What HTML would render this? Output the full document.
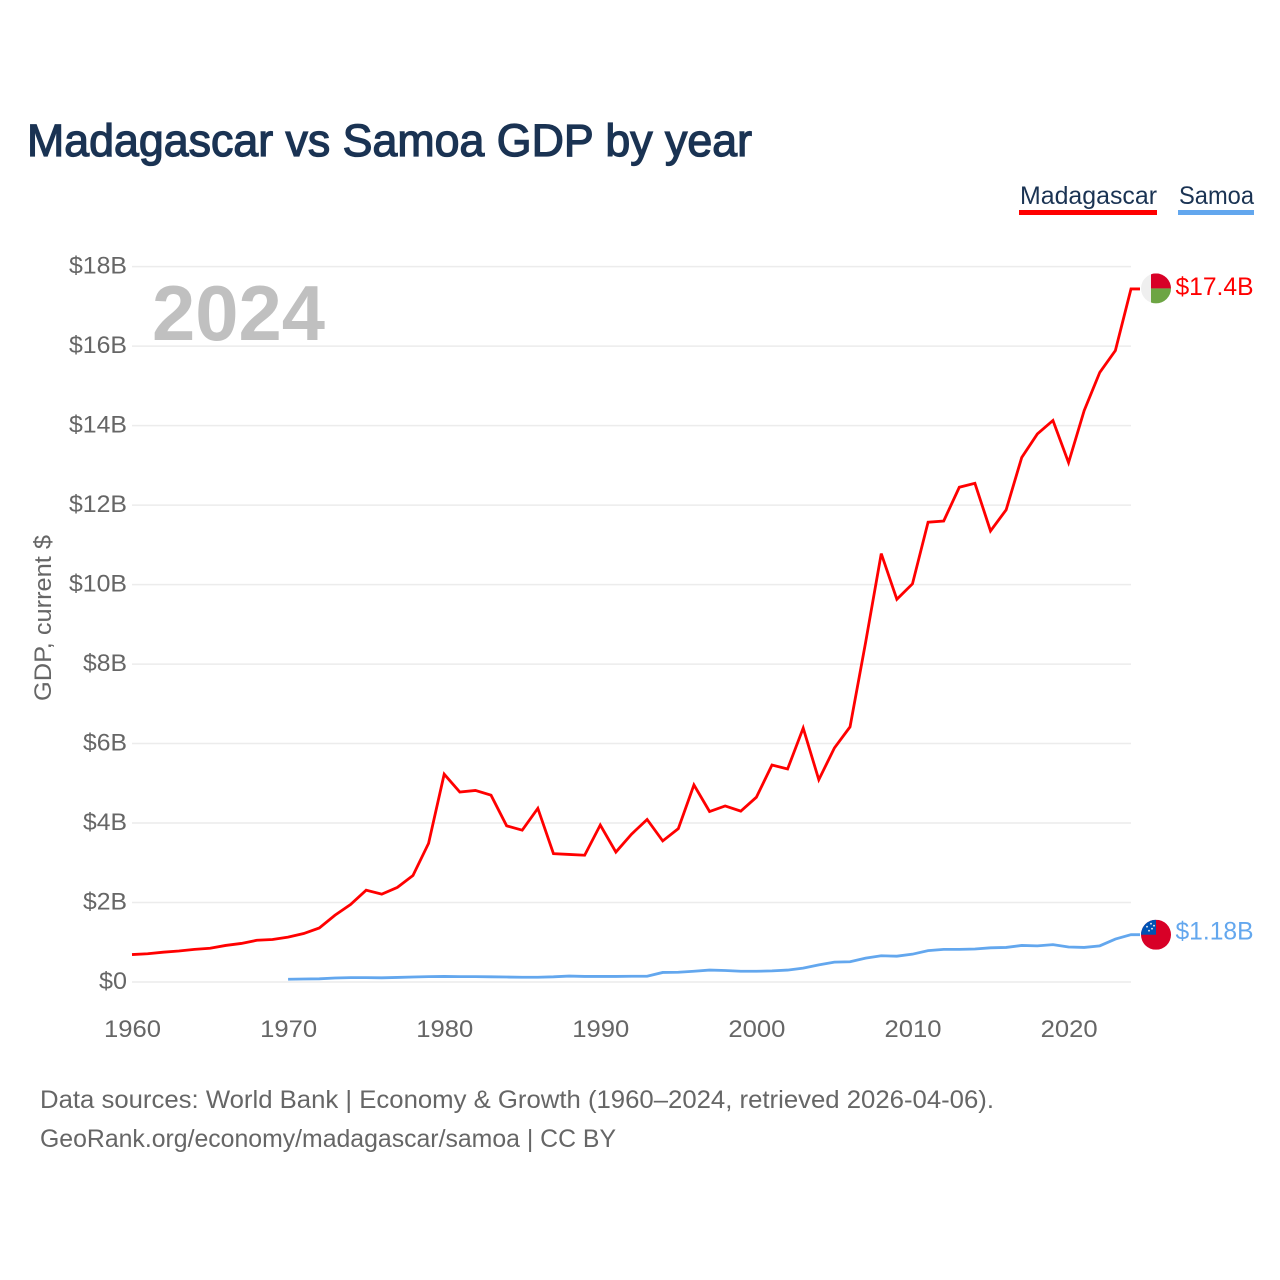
<!DOCTYPE html>
<html lang="en">
<head>
<meta charset="utf-8">
<title>Madagascar vs Samoa GDP by year</title>
<style>
html,body{margin:0;padding:0;background:#fff;}
body{width:1280px;height:1280px;overflow:hidden;}
svg{display:block;font-family:"Liberation Sans",sans-serif;}
</style>
</head>
<body>
<svg id="chart" xmlns="http://www.w3.org/2000/svg" width="1280" height="1280" viewBox="0 0 1280 1280">
  <defs>
    <clipPath id="flag-clip"><circle cx="0" cy="0" r="15"></circle></clipPath>
  </defs>
  <rect x="0" y="0" width="1280" height="1280" fill="#ffffff"></rect>
  <text x="27" y="156" font-size="45" fill="#1a3353" stroke="#1a3353" stroke-width="1.3" textLength="725" lengthAdjust="spacingAndGlyphs">Madagascar vs Samoa GDP by year</text>
  <g>
    <text x="1020" y="204" font-size="25" fill="#1a3353" textLength="137" lengthAdjust="spacingAndGlyphs">Madagascar</text>
    <rect x="1019" y="210" width="138" height="5" fill="#ff0000"></rect>
  </g>
  <g>
    <text x="1179" y="204" font-size="25" fill="#1a3353" textLength="75" lengthAdjust="spacingAndGlyphs">Samoa</text>
    <rect x="1178" y="210" width="76" height="5" fill="#63a7ee"></rect>
  </g>
  <g id="grid"></g>
  <text x="152" y="340" font-size="78" font-weight="bold" fill="#c0c0c0" textLength="173" lengthAdjust="spacingAndGlyphs">2024</text>
  <g id="y-axis"></g>
  <g id="x-axis"></g>
  <text transform="translate(51,701) rotate(-90)" x="0" y="0" font-size="24" fill="#666666" textLength="166" lengthAdjust="spacingAndGlyphs">GDP, current $</text>
  <g id="series"></g>
  <g id="end-markers"></g>
  <text x="40" y="1108" font-size="25" fill="#666666" textLength="954" lengthAdjust="spacingAndGlyphs">Data sources: World Bank | Economy &amp; Growth (1960–2024, retrieved 2026-04-06).</text>
  <text x="40" y="1147" font-size="25" fill="#666666" textLength="576" lengthAdjust="spacingAndGlyphs">GeoRank.org/economy/madagascar/samoa | CC BY</text>
</svg>
<script>
const madagascarStartYear = 1960;
const madagascarValues = [0.69,0.71,0.75,0.78,0.82,0.85,0.92,0.97,1.05,1.07,1.13,1.22,1.36,1.68,1.95,2.31,2.21,2.38,2.68,3.49,5.23,4.78,4.82,4.70,3.93,3.82,4.37,3.23,3.21,3.19,3.95,3.27,3.72,4.09,3.55,3.86,4.96,4.29,4.43,4.30,4.65,5.46,5.36,6.39,5.09,5.89,6.42,8.55,10.78,9.63,10.02,11.57,11.60,12.45,12.55,11.35,11.88,13.20,13.79,14.13,13.07,14.38,15.34,15.89,17.44];
const samoaStartYear = 1970;
const samoaValues = [0.07,0.075,0.08,0.10,0.11,0.11,0.105,0.115,0.125,0.135,0.14,0.135,0.135,0.13,0.125,0.12,0.12,0.13,0.15,0.14,0.14,0.14,0.145,0.145,0.24,0.245,0.27,0.30,0.29,0.27,0.27,0.28,0.30,0.35,0.43,0.50,0.51,0.60,0.66,0.65,0.70,0.79,0.82,0.82,0.83,0.86,0.87,0.92,0.91,0.94,0.88,0.87,0.91,1.08,1.19];
const yTickValues = [0,2,4,6,8,10,12,14,16,18];
const yTickLabels = ["$0","$2B","$4B","$6B","$8B","$10B","$12B","$14B","$16B","$18B"];
const xTickYears = [1960,1970,1980,1990,2000,2010,2020];
const endLabels = ["$17.4B","$1.18B"];

const NS = "http://www.w3.org/2000/svg";
const xScale = function (year) { return 132 + (year - 1960) * (1131 - 132) / 64; };
const yScale = function (value) { return 982 - value * 39.74; };

function svgEl(tag, parent) {
  const el = document.createElementNS(NS, tag);
  parent.appendChild(el);
  return el;
}
function setAttrs(el, attrs) {
  Object.keys(attrs).forEach(function (k) { el.setAttribute(k, attrs[k]); });
  return el;
}
function linePath(startYear, values) {
  return values.map(function (v, i) {
    return (i ? "L" : "M") + xScale(startYear + i).toFixed(2) + " " + yScale(v).toFixed(2);
  }).join(" ");
}

const gridG = document.getElementById("grid");
const yAxisG = document.getElementById("y-axis");
yTickValues.forEach(function (v, i) {
  const gridLine = svgEl("line", gridG);
  setAttrs(gridLine, {x1: 132, x2: 1131, y1: yScale(v), y2: yScale(v), stroke: "#ececec", "stroke-width": 1.5});
  
  
  const label = svgEl("text", yAxisG);
  const chars = yTickLabels[i].length;
  setAttrs(label, {x: 127, y: yScale(v) + 7, "text-anchor": "end", "font-size": 24, fill: "#666666", textLength: chars === 2 ? 28 : chars === 3 ? 44 : 58, lengthAdjust: "spacingAndGlyphs"});
  label.textContent = yTickLabels[i];
  
  
});

const xAxisG = document.getElementById("x-axis");
xTickYears.forEach(function (year) {
  const label = svgEl("text", xAxisG);
  setAttrs(label, {x: xScale(year) + 0.5, y: 1037, "text-anchor": "middle", "font-size": 24, fill: "#666666", textLength: 57, lengthAdjust: "spacingAndGlyphs"});
  label.textContent = String(year);
  
  
});

const seriesG = document.getElementById("series");
const markersG = document.getElementById("end-markers");

function drawSeries(startYear, values, color) {
  const lastX = xScale(startYear + values.length - 1);
  const lastY = yScale(values[values.length - 1]);
  const path = svgEl("path", seriesG);
  setAttrs(path, {d: linePath(startYear, values) + " L" + (lastX + 9) + " " + lastY, fill: "none", stroke: color, "stroke-width": 2.8, "stroke-linejoin": "miter"});
  return path;
}

const madPath = drawSeries(madagascarStartYear, madagascarValues, "#ff0000");


const samPath = drawSeries(samoaStartYear, samoaValues, "#63a7ee");



/* Madagascar flag marker */
const madY = yScale(madagascarValues[madagascarValues.length - 1]);
const madFlag = svgEl("g", markersG);
madFlag.setAttribute("transform", "translate(1156," + (madY - 0.5) + ")");


const madClip = svgEl("g", madFlag);
madClip.setAttribute("clip-path", "url(#flag-clip)");
setAttrs(svgEl("rect", madClip), {x: -15, y: -15, width: 30, height: 30, fill: "#efefef"});
setAttrs(svgEl("rect", madClip), {x: -5, y: -15, width: 20, height: 15, fill: "#d80027"});
setAttrs(svgEl("rect", madClip), {x: -5, y: 0, width: 20, height: 15, fill: "#6da544"});

/* Samoa flag marker */
const samY = yScale(samoaValues[samoaValues.length - 1]);
const samFlag = svgEl("g", markersG);
samFlag.setAttribute("transform", "translate(1156," + samY + ")");


const samClip = svgEl("g", samFlag);
samClip.setAttribute("clip-path", "url(#flag-clip)");
setAttrs(svgEl("rect", samClip), {x: -15, y: -15, width: 30, height: 30, fill: "#d80027"});
setAttrs(svgEl("rect", samClip), {x: -15, y: -15, width: 15, height: 15, fill: "#0052b4"});
[[-5,-11],[-9,-8],[-4,-6],[-7,-4],[-2,-9]].forEach(function (s) {
  setAttrs(svgEl("circle", samClip), {cx: s[0], cy: s[1], r: 0.9, fill: "#f0f0f0"});
});

const madEnd = svgEl("text", markersG);
setAttrs(madEnd, {x: 1175.5, y: madY + 6, "font-size": 25, fill: "#ff0000", textLength: 78, lengthAdjust: "spacingAndGlyphs"});
madEnd.textContent = endLabels[0];


const samEnd = svgEl("text", markersG);
setAttrs(samEnd, {x: 1175.5, y: samY + 5, "font-size": 25, fill: "#63a7ee", textLength: 78, lengthAdjust: "spacingAndGlyphs"});
samEnd.textContent = endLabels[1];


</script>
</body>
</html>
